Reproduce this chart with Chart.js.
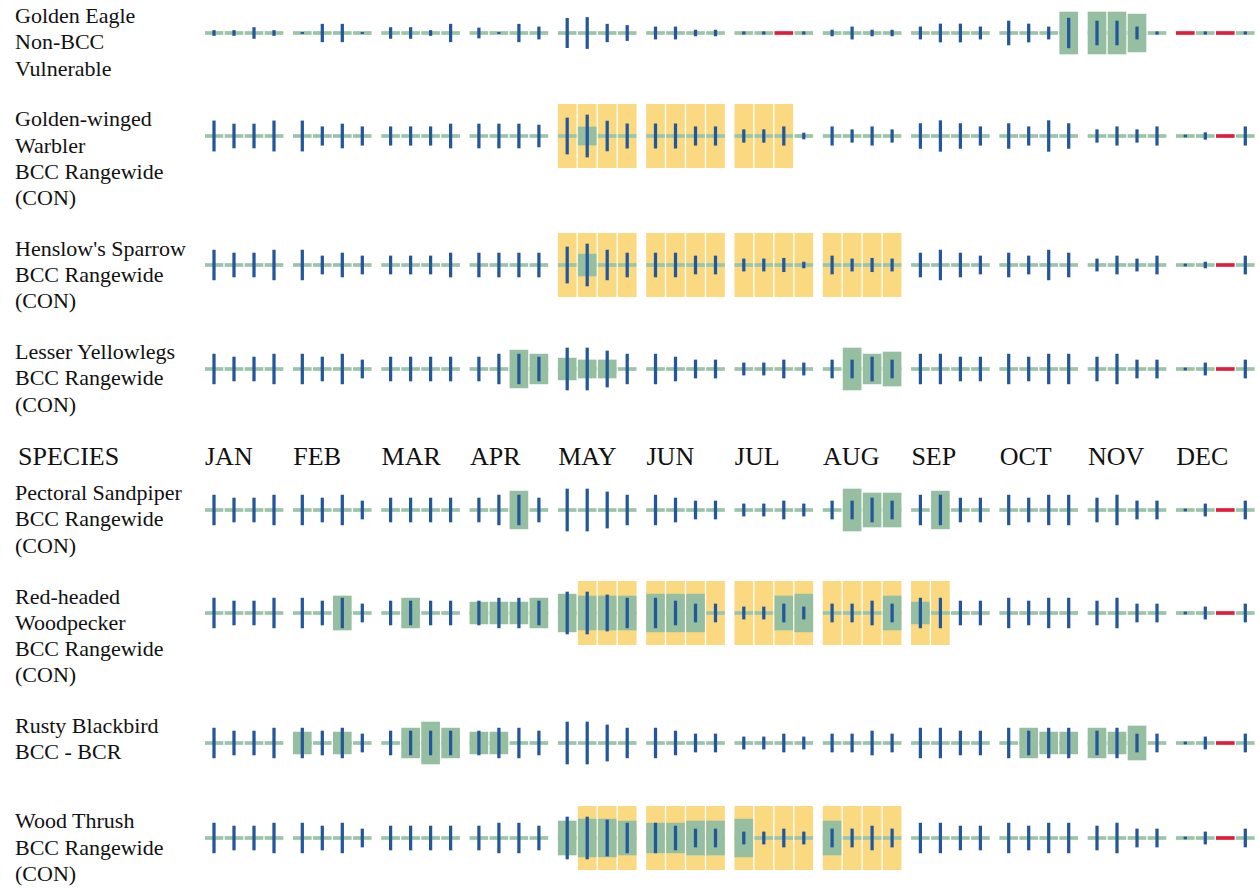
<!DOCTYPE html>
<html>
<head>
<meta charset="utf-8">
<title>Probability of presence</title>
<script src="https://cdn.jsdelivr.net/npm/chart.js@4.4.0/dist/chart.umd.min.js"></script>
<style>
    body { margin: 0; background: #fff; color: #111; font-family: "Liberation Serif", "Times New Roman", serif; }
    #wrap { width: 1260px; padding-top: 0.7px; }
    .row { display: flex; align-items: flex-start; padding-bottom: 24.7px; }
    .label { box-sizing: border-box; width: 205px; padding-left: 15px; font-family: "Liberation Serif", "Times New Roman", serif; font-size: 22px; line-height: 26.2px; min-height: 70.6px; position: relative; top: 2.5px; }
    .plot { width: 1055px; height: 64px; }
    .plot canvas { display: block; }
    .header { position: relative; height: 37.7px; font-size: 26px; line-height: 30px; }
    .header span { position: absolute; top: 1.5px; white-space: nowrap; }
</style>
</head>
<body>
<div id="wrap"></div>
<script>
// Week-by-week values, 4 weeks per month (JAN w1 .. DEC w4).
// Presence and effort are on a 0-10 scale (10 = tallest bar).
const MONTHS = ['JAN', 'FEB', 'MAR', 'APR', 'MAY', 'JUN', 'JUL', 'AUG', 'SEP', 'OCT', 'NOV', 'DEC'];

const SPECIES = [
    ['Golden Eagle', 'Non-BCC', 'Vulnerable'],
    ['Golden-winged', 'Warbler', 'BCC Rangewide', '(CON)'],
    ["Henslow's Sparrow", 'BCC Rangewide', '(CON)'],
    ['Lesser Yellowlegs', 'BCC Rangewide', '(CON)'],
    ['Pectoral Sandpiper', 'BCC Rangewide', '(CON)'],
    ['Red-headed', 'Woodpecker', 'BCC Rangewide', '(CON)'],
    ['Rusty Blackbird', 'BCC - BCR'],
    ['Wood Thrush', 'BCC Rangewide', '(CON)'],
];

// the SPECIES / month header row is repeated after this many species
const HEADER_AFTER = 4;

const PRESENCE = [
    [0,0,0,0, 0,0,0,0, 0,0,0,0, 0,0,0,0, 0,0,0,0, 0,0,0,0, 0,0,0,0, 0,0,0,0, 0,0,0,0, 0,0,0,10, 10,10,9,0, 0,0,0,0],
    [0,0,0,0, 0,0,0,0, 0,0,0,0, 0,0,0,0, 0,4.3,0,0, 0,0,0,0, 0,0,0,0, 0,0,0,0, 0,0,0,0, 0,0,0,0, 0,0,0,0, 0,0,0,0],
    [0,0,0,0, 0,0,0,0, 0,0,0,0, 0,0,0,0, 0,5.2,0,0, 0,0,0,0, 0,0,0,0, 0,0,0,0, 0,0,0,0, 0,0,0,0, 0,0,0,0, 0,0,0,0],
    [0,0,0,0, 0,0,0,0, 0,0,0,0, 0,0,9,7.1, 5.2,4.3,4.3,0, 0,0,0,0, 0,0,0,0, 0,10,7.1,8.1, 0,0,0,0, 0,0,0,0, 0,0,0,0, 0,0,0,0],
    [0,0,0,0, 0,0,0,0, 0,0,0,0, 0,0,9,0, 0,0,0,0, 0,0,0,0, 0,0,0,0, 0,10,8.1,8.1, 0,9,0,0, 0,0,0,0, 0,0,0,0, 0,0,0,0],
    [0,0,0,0, 0,0,8.1,0, 0,7.1,0,0, 5.2,5.2,5.2,7.1, 9,8.1,8.1,8.1, 9,9,9,0, 0,0,8.1,9, 0,0,0,8.1, 5.2,0,0,0, 0,0,0,0, 0,0,0,0, 0,0,0,0],
    [0,0,0,0, 5.2,0,5.2,0, 0,7.1,10,7.1, 5.2,5.2,0,0, 0,0,0,0, 0,0,0,0, 0,0,0,0, 0,0,0,0, 0,0,0,0, 0,7.1,5.2,5.2, 7.1,5.2,8.1,0, 0,0,0,0],
    [0,0,0,0, 0,0,0,0, 0,0,0,0, 0,0,0,0, 8.1,9,9,8.1, 7.1,7.1,8.1,8.1, 9,0,0,0, 8.1,0,0,0, 0,0,0,0, 0,0,0,0, 0,0,0,0, 0,0,0,0],
];

const EFFORT = [
    [1.2,1.2,2.6,1.2, 0.3,4.2,4.2,0.3, 2.6,2.6,1.2,4.2, 2.4,0.3,4.2,2.9, 7,7.4,4.2,3.6, 2.9,2.9,1.4,1.4, 0.6,0.6,0,0.6, 1.4,2.9,1.4,1.4, 2.9,4.3,4.3,2.9, 5.7,4.3,2.9,7.1, 5.7,5.7,2.9,0.6, 0,0.6,0,0.6],
    [7.2,5.7,5.7,7.2, 7.2,4.4,5.7,4.4, 4.4,4.4,4.4,5.7, 5.7,5.7,5.7,5.2, 8.6,10,7.1,5.8, 5.8,5.8,4.4,4.4, 3,3,4.4,1.4, 4.4,3,4.4,3, 5.9,7.3,5.9,4.4, 5.9,4.4,7.3,5.9, 3,4.4,3,4.4, 0.5,1.6,0,4.4],
    [7.1,5.7,5.7,7.1, 7.1,4.3,5.7,4.3, 4.3,4.3,4.3,5.7, 5.7,5.7,5.7,5.7, 8.6,10,7.1,5.7, 5.7,5.7,4.3,4.3, 2.9,2.9,3.2,1.4, 4.3,2.9,3.2,2.9, 5.7,7.1,5.7,4.3, 5.7,4.3,7.1,5.7, 2.9,4.3,2.9,4.3, 0.5,1.4,0,4.3],
    [7.1,5.7,5.7,7.1, 7.1,5.7,7.1,4.3, 5.7,5.7,5.7,5.7, 5.7,7.1,7.1,5.7, 10,10,8.6,7.1, 7.1,5.7,4.3,4.3, 2.9,2.9,4.3,2.9, 4.3,4.3,5.7,4.3, 7.1,7.1,5.7,5.7, 7.1,5.7,7.1,7.1, 5.7,7.1,4.3,4.3, 0.5,2.9,0,4.3],
    [7.1,5.7,5.7,7.1, 7.1,5.7,7.1,4.3, 5.7,5.7,5.7,5.7, 5.7,7.1,7.1,5.7, 10,10,8.6,7.1, 7.1,5.7,4.3,4.3, 2.9,2.9,4.3,2.9, 4.3,4.3,5.7,4.3, 7.1,7.1,5.7,5.7, 7.1,5.7,7.1,7.1, 5.7,7.1,4.3,4.3, 0.5,2.9,0,4.3],
    [7.1,5.7,5.7,7.1, 7.1,5.7,7.1,4.3, 5.7,5.7,5.7,5.7, 5.7,7.1,7.1,5.7, 10,10,8.6,7.1, 7.1,5.7,4.3,4.3, 2.9,2.9,4.3,2.9, 4.3,4.3,5.7,4.3, 7.1,7.1,5.7,5.7, 7.1,5.7,7.1,7.1, 5.7,7.1,4.3,4.3, 0.5,2.9,0,4.3],
    [7.1,5.7,5.7,7.1, 7.1,5.7,7.1,4.3, 5.7,5.7,5.7,5.7, 5.7,7.1,7.1,5.7, 10,10,8.6,7.1, 7.1,5.7,4.3,4.3, 2.9,2.9,4.3,2.9, 4.3,4.3,5.7,4.3, 7.1,7.1,5.7,5.7, 7.1,5.7,7.1,7.1, 5.7,7.1,4.3,4.3, 0.5,2.9,0,4.3],
    [7.1,5.7,5.7,7.1, 7.1,5.7,7.1,4.3, 5.7,5.7,5.7,5.7, 5.7,7.1,7.1,5.7, 10,10,8.6,7.1, 7.1,5.7,4.3,4.3, 2.9,2.9,4.3,2.9, 4.3,4.3,5.7,4.3, 7.1,7.1,5.7,5.7, 7.1,5.7,7.1,7.1, 5.7,7.1,4.3,4.3, 0.5,2.9,0,4.3],
];

// breeding season as [first week, last week] (week index 0..47), null = none
const BREEDING = [null, [16, 26], [16, 31], null, null, [17, 33], null, [17, 31]];

// weeks with no data (drawn red)
const NO_DATA = [[26, 44, 46], [46], [46], [46], [46], [46], [46], [46]];

const COLORS = {
    breeding: '#fad981',
    presence: '#96bfa1',
    baseline: '#9cc4a7',
    noData: '#e21d3c',
    effort: '#23579a',
};

// layout of the week axis, in week units (1 unit = one 20px week slot)
const MONTH_SPAN = 4.415;   // 4 weeks + gap between months
const AXIS_MAX = 52.75;     // plot width / week slot
const HALF = 7.62;          // half the plot height, in 0-10 value units
const LINE_HALF = 0.36;     // half thickness of the zero line

const weekX = (w) => Math.floor(w / 4) * MONTH_SPAN + (w % 4) + 0.45;

function buildDatasets(i) {
    const weeks = [...Array(48).keys()];
    const br = BREEDING[i];
    const noData = new Set(NO_DATA[i]);
    return [
        {
            label: 'breeding',
            data: br ? weeks.filter(w => w >= br[0] && w <= br[1]).map(w => ({ x: weekX(w), y: [-HALF, HALF] })) : [],
            backgroundColor: COLORS.breeding,
            barThickness: 18,
            order: 4,
        },
        {
            label: 'baseline',
            data: weeks.map(w => ({ x: weekX(w), y: [-LINE_HALF, LINE_HALF] })),
            backgroundColor: weeks.map(w => noData.has(w) ? COLORS.noData : COLORS.baseline),
            barThickness: 18,
            order: 3,
        },
        {
            label: 'presence',
            data: weeks.filter(w => PRESENCE[i][w] > 0).map(w => ({ x: weekX(w), y: [-PRESENCE[i][w] / 2, PRESENCE[i][w] / 2] })),
            backgroundColor: COLORS.presence,
            barThickness: 18,
            order: 2,
        },
        {
            label: 'effort',
            data: weeks.filter(w => EFFORT[i][w] > 0).map(w => ({ x: weekX(w), y: [-EFFORT[i][w] / 2, EFFORT[i][w] / 2] })),
            backgroundColor: COLORS.effort,
            barThickness: 2.6,
            order: 1,
        },
    ];
}

function renderHeader(wrap) {
    const header = document.createElement('div');
    header.className = 'header';
    const sp = document.createElement('span');
    sp.textContent = 'SPECIES';
    sp.style.left = '18px';
    header.appendChild(sp);
    MONTHS.forEach((m, k) => {
        const s = document.createElement('span');
        s.textContent = m;
        s.style.left = (205 + k * 88.3) + 'px';
        header.appendChild(s);
    });
    wrap.appendChild(header);
}

function renderRow(wrap, i) {
    const row = document.createElement('div');
    row.className = 'row';
    const label = document.createElement('div');
    label.className = 'label';
    SPECIES[i].forEach((line, k) => {
        if (k > 0) label.appendChild(document.createElement('br'));
        label.appendChild(document.createTextNode(line));
    });
    const plot = document.createElement('div');
    plot.className = 'plot';
    const canvas = document.createElement('canvas');
    canvas.width = 1055;
    canvas.height = 64;
    plot.appendChild(canvas);
    row.appendChild(label);
    row.appendChild(plot);
    wrap.appendChild(row);

    new Chart(canvas, {
        type: 'bar',
        data: { datasets: buildDatasets(i) },
        options: {
            responsive: false,
            animation: false,
            devicePixelRatio: 1,
            layout: { padding: 0 },
            datasets: { bar: { grouped: false, borderWidth: 0 } },
            plugins: { legend: { display: false }, tooltip: { enabled: false } },
            scales: {
                x: { type: 'linear', min: 0, max: AXIS_MAX, offset: false, display: false },
                y: { type: 'linear', min: -HALF, max: HALF, display: false },
            },
        },
    });
}

const wrap = document.getElementById('wrap');
SPECIES.forEach((_, i) => {
    if (i === HEADER_AFTER) renderHeader(wrap);
    renderRow(wrap, i);
});
</script>
</body>
</html>
